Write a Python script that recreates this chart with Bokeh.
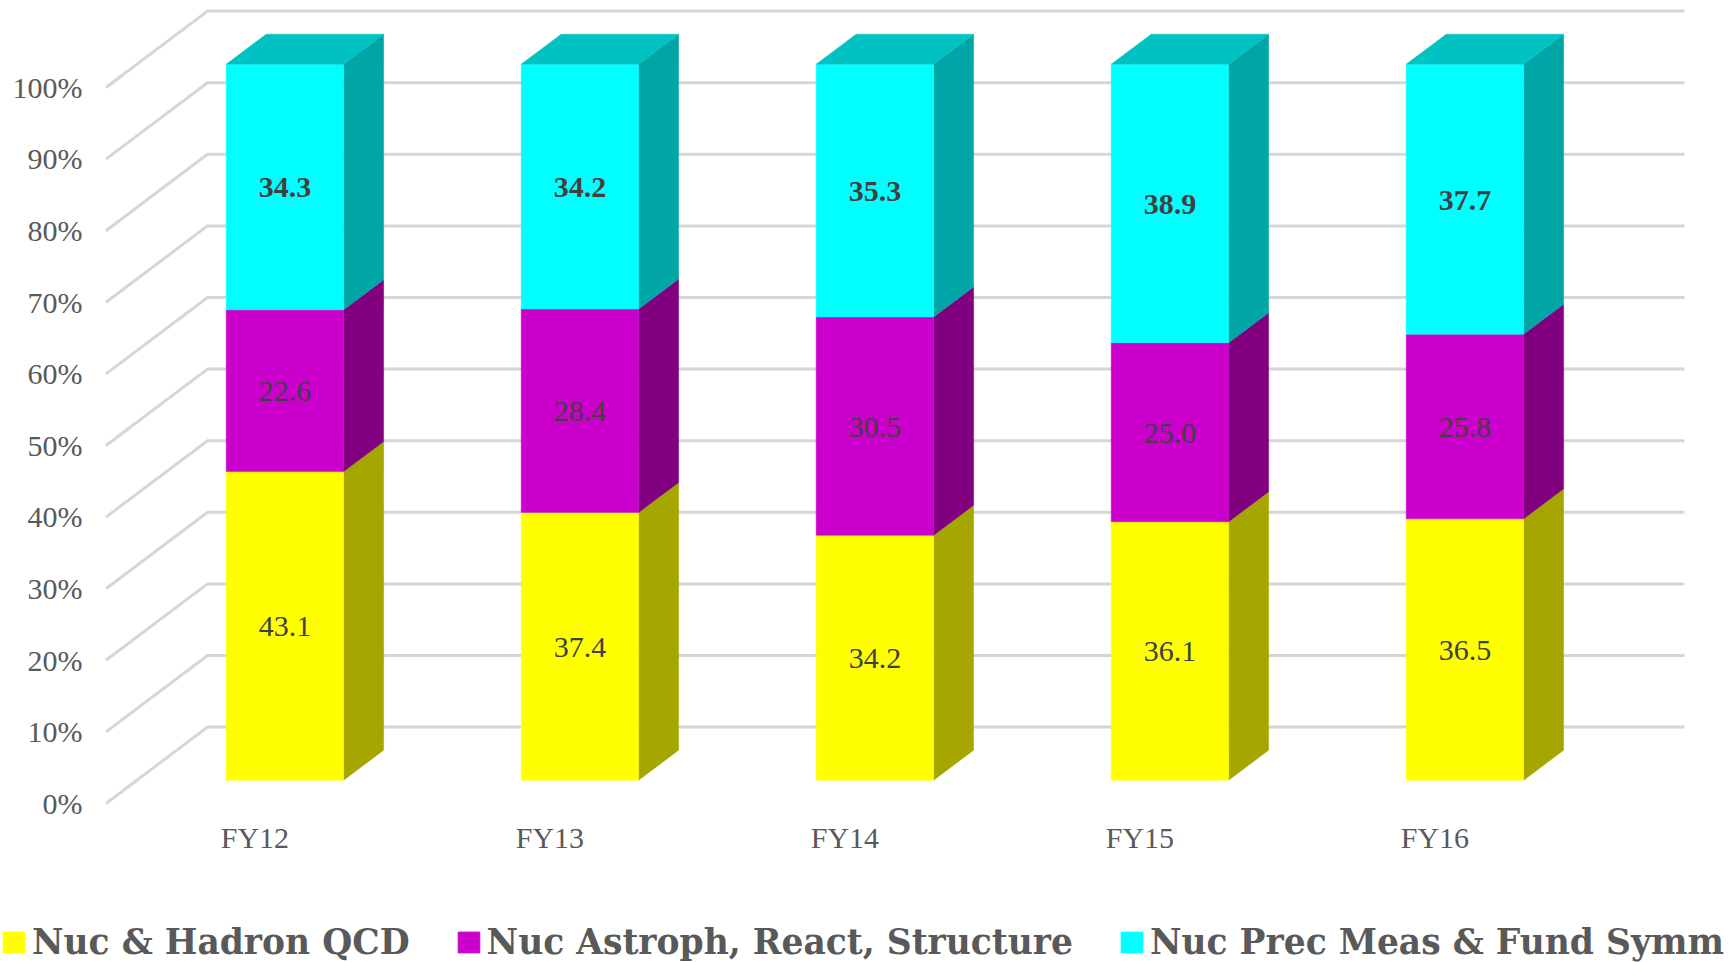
from bokeh.core.properties import value
from bokeh.embed import file_html
from bokeh.models import ColumnDataSource, FixedTicker, Legend, LegendItem, LinearAxis, Range1d
from bokeh.plotting import figure
from bokeh.resources import INLINE

# Funding share per fiscal year, percent of total
years = ["FY12", "FY13", "FY14", "FY15", "FY16"]
qcd = [43.1, 37.4, 34.2, 36.1, 36.5]
astro = [22.6, 28.4, 30.5, 25.0, 25.8]
precision = [34.3, 34.2, 35.3, 38.9, 37.7]
percent_ticks = [0, 10, 20, 30, 40, 50, 60, 70, 80, 90, 100]

series = [
    ("Nuc & Hadron QCD", qcd, "#ffff00", "#a6a600", "normal"),
    ("Nuc Astroph, React, Structure", astro, "#cc00cc", "#800080", "normal"),
    ("Nuc Prec Meas & Fund Symm", precision, "#00ffff", "#00a6a6", "bold"),
]
top_face_colour = "#00c2c2"

# Page layout, in pixels
FRAME_LEFT, FRAME_WIDTH, FRAME_HEIGHT = 90, 1639, 815
PAGE_W, PAGE_H = 1729, 962
LEGEND_STRIP_H = 106
CATEGORY_PX, PERCENT_PX = 295, 7.16
ORIGIN_X, ORIGIN_Y = 284.4, 779.7

# Pseudo-3D offsets, in data units
HALF_BAR = 58.7 / CATEGORY_PX
BAR_DX, BAR_DY = 40 / CATEGORY_PX, 30 / PERCENT_PX
WALL_LEFT = (207 - ORIGIN_X) / CATEGORY_PX
WALL_RIGHT = (1684 - ORIGIN_X) / CATEGORY_PX
WALL_DY = (ORIGIN_Y - 726.6) / PERCENT_PX
FLOOR_X = (105.5 - ORIGIN_X) / CATEGORY_PX
FLOOR_DY = (ORIGIN_Y - 803) / PERCENT_PX
TICK_LABEL_DY = (ORIGIN_Y - 802.8) / PERCENT_PX
YEAR_LABEL_SHIFT = 30 / CATEGORY_PX

x0 = (FRAME_LEFT - ORIGIN_X) / CATEGORY_PX
x1 = (PAGE_W - ORIGIN_X) / CATEGORY_PX
y1 = ORIGIN_Y / PERCENT_PX
y0 = (ORIGIN_Y - FRAME_HEIGHT) / PERCENT_PX

p = figure(
    width=PAGE_W, height=PAGE_H - LEGEND_STRIP_H,
    frame_width=FRAME_WIDTH, frame_height=FRAME_HEIGHT,
    x_range=Range1d(x0, x1), y_range=Range1d(y0, y1),
    x_axis_location=None, y_axis_location=None,
    output_backend="svg", toolbar_location=None,
    min_border_left=FRAME_LEFT, min_border_right=0, min_border_top=0, min_border_bottom=0,
    outline_line_color=None, background_fill_color="white", border_fill_color="white",
)
p.grid.visible = False

# Back wall gridlines, each with its slanted run across the floor plane
grid_xs = [[FLOOR_X, WALL_LEFT, WALL_RIGHT] for _ in percent_ticks]
grid_ys = [[v + FLOOR_DY, v + WALL_DY, v + WALL_DY] for v in percent_ticks]
p.multi_line(grid_xs, grid_ys, line_color="#d6d6d6", line_width=3)

# Stacked bars: front, side and top faces
bottoms = [0.0] * len(years)
for name, values, colour, side_colour, weight in series:
    tops = [b + v for b, v in zip(bottoms, values)]
    left = [i - HALF_BAR for i in range(len(years))]
    right = [i + HALF_BAR for i in range(len(years))]
    side_xs = [[r, r + BAR_DX, r + BAR_DX, r] for r in right]
    side_ys = [[b, b + BAR_DY, t + BAR_DY, t] for b, t in zip(bottoms, tops)]
    p.patches(side_xs, side_ys, fill_color=side_colour, line_color=side_colour, line_width=0.5)
    p.quad(left=left, right=right, bottom=bottoms, top=tops,
           fill_color=colour, line_color=colour, line_width=0.5)

    labels = ColumnDataSource(dict(
        x=list(range(len(years))),
        y=[(b + t) / 2 for b, t in zip(bottoms, tops)],
        text=[f"{v:.1f}" for v in values],
    ))
    p.text("x", "y", text="text", source=labels, text_align="center", text_baseline="middle",
           y_offset=1, text_font=value("Liberation Serif"), text_font_size="30px",
           text_color="#404040", text_font_style=weight)
    bottoms = tops

# Top cap of each column
top_xs = [[i - HALF_BAR, i - HALF_BAR + BAR_DX, i + HALF_BAR + BAR_DX, i + HALF_BAR] for i in range(len(years))]
top_ys = [[t, t + BAR_DY, t + BAR_DY, t] for t in bottoms]
p.patches(top_xs, top_ys, fill_color=top_face_colour, line_color=top_face_colour, line_width=0.5)

p.extra_y_ranges["front"] = Range1d(y0 - TICK_LABEL_DY, y1 - TICK_LABEL_DY)
p.extra_x_ranges["years"] = Range1d(x0 + YEAR_LABEL_SHIFT, x1 + YEAR_LABEL_SHIFT)

y_axis = LinearAxis(y_range_name="front", ticker=FixedTicker(ticks=percent_ticks),
                    major_label_overrides={v: f"{v}%" for v in percent_ticks})
x_axis = LinearAxis(x_range_name="years", ticker=FixedTicker(ticks=list(range(len(years)))),
                    major_label_overrides={i: y for i, y in enumerate(years)})
for axis in (x_axis, y_axis):
    axis.axis_line_color = None
    axis.major_tick_line_color = None
    axis.minor_tick_line_color = None
    axis.major_label_text_font = "Liberation Serif"
    axis.major_label_text_font_size = "30px"
    axis.major_label_text_color = "#595959"
y_axis.major_label_standoff = 2
x_axis.major_label_standoff = -1
p.add_layout(y_axis, "left")
p.add_layout(x_axis, "below")

# Legend strip under the chart; its swatch renderers hold no visible data
strip = figure(
    width=PAGE_W, height=LEGEND_STRIP_H,
    x_range=Range1d(0, 1), y_range=Range1d(0, 1),
    x_axis_location=None, y_axis_location=None,
    output_backend="svg", toolbar_location=None,
    min_border_left=0, min_border_right=0, min_border_top=0, min_border_bottom=0,
    outline_line_color=None, background_fill_color="white", border_fill_color="white",
)
strip.grid.visible = False
legend_items = []
for name, values, colour, side_colour, weight in series:
    nan = float("nan")
    swatch = strip.quad(left=[nan], right=[nan], bottom=[nan], top=[nan],
                        fill_color=colour, line_color=colour)
    legend_items.append(LegendItem(label=name, renderers=[swatch]))

# Legend glyphs are inset by a tenth on each side, hence the larger glyph box
legend = Legend(items=legend_items, orientation="horizontal", location=(0, 0),
                glyph_width=27, glyph_height=26, label_standoff=5, spacing=45,
                padding=0, margin=0, border_line_color=None, background_fill_alpha=0,
                label_text_font="DejaVu Serif", label_text_font_style="bold",
                label_text_font_size="34.5px", label_text_color="#595959")
strip.add_layout(legend, "center")

open("out.html", "w").write(file_html([p, strip], INLINE))
